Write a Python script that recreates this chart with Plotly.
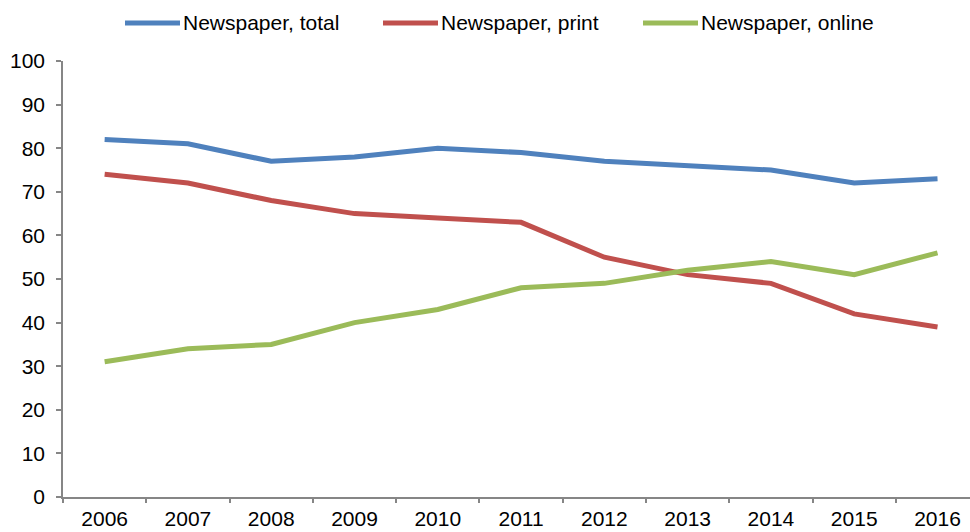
import plotly.graph_objects as go

years = ["2006", "2007", "2008", "2009", "2010", "2011", "2012", "2013", "2014", "2015", "2016"]
total = [82, 81, 77, 78, 80, 79, 77, 76, 75, 72, 73]
printed = [74, 72, 68, 65, 64, 63, 55, 51, 49, 42, 39]
online = [31, 34, 35, 40, 43, 48, 49, 52, 54, 51, 56]
series_names = ["Newspaper, total", "Newspaper, print", "Newspaper, online"]
colors = ["#4F81BD", "#C0504D", "#9BBB59"]
y_ticks = list(range(0, 101, 10))

W, H = 970, 532
L, R, T, B = 63, 0, 61, 35
pw, ph = W - L - R, H - T - B
FONT = "Liberation Sans, Arial, sans-serif"
FS = 21

fig = go.Figure()
for name, vals, col in zip(series_names, [total, printed, online], colors):
    fig.add_trace(go.Scatter(x=years, y=vals, mode="lines", name=name,
                             line=dict(color=col, width=5), showlegend=False))

# manual legend (Excel style, long line keys)
legend_x = [125, 383, 643]
legend_y = 23
def px(x):
    return (x - L) / pw
def py(y):
    return (H - B - y) / ph
for name, col, lx in zip(series_names, colors, legend_x):
    fig.add_shape(type="line", xref="paper", yref="paper",
                  x0=px(lx), x1=px(lx + 55), y0=py(legend_y), y1=py(legend_y),
                  line=dict(color=col, width=5))
    fig.add_annotation(xref="paper", yref="paper", x=px(lx + 56), y=py(legend_y),
                       text=name, showarrow=False, xanchor="left", yanchor="middle",
                       font=dict(family=FONT, size=FS, color="#000000"))

axis_col = "#868686"
fig.update_layout(
    width=W, height=H,
    margin=dict(l=L, r=R, t=T, b=B, autoexpand=False),
    paper_bgcolor="white", plot_bgcolor="white",
    font=dict(family=FONT, size=FS, color="#000000"),
    xaxis=dict(type="category", range=[-0.5, 10.39], showgrid=False,
               showline=True, linecolor=axis_col, linewidth=1.5,
               ticks="outside", tickson="boundaries", ticklen=4, tickcolor=axis_col,
               tickwidth=1.5, automargin=False, ticklabelstandoff=2,
               tickfont=dict(family=FONT, size=FS, color="#000000")),
    yaxis=dict(range=[0, 100], tickvals=y_ticks, showgrid=False, zeroline=False,
               showline=True, linecolor=axis_col, linewidth=1.5,
               ticks="outside", ticklen=5, tickcolor=axis_col, tickwidth=1.5,
               ticklabelstandoff=7, automargin=False,
               tickfont=dict(family=FONT, size=FS, color="#000000")),
)

fig.write_html("out.html", config={"displayModeBar": False},
               post_script="document.body.style.margin='0';")
